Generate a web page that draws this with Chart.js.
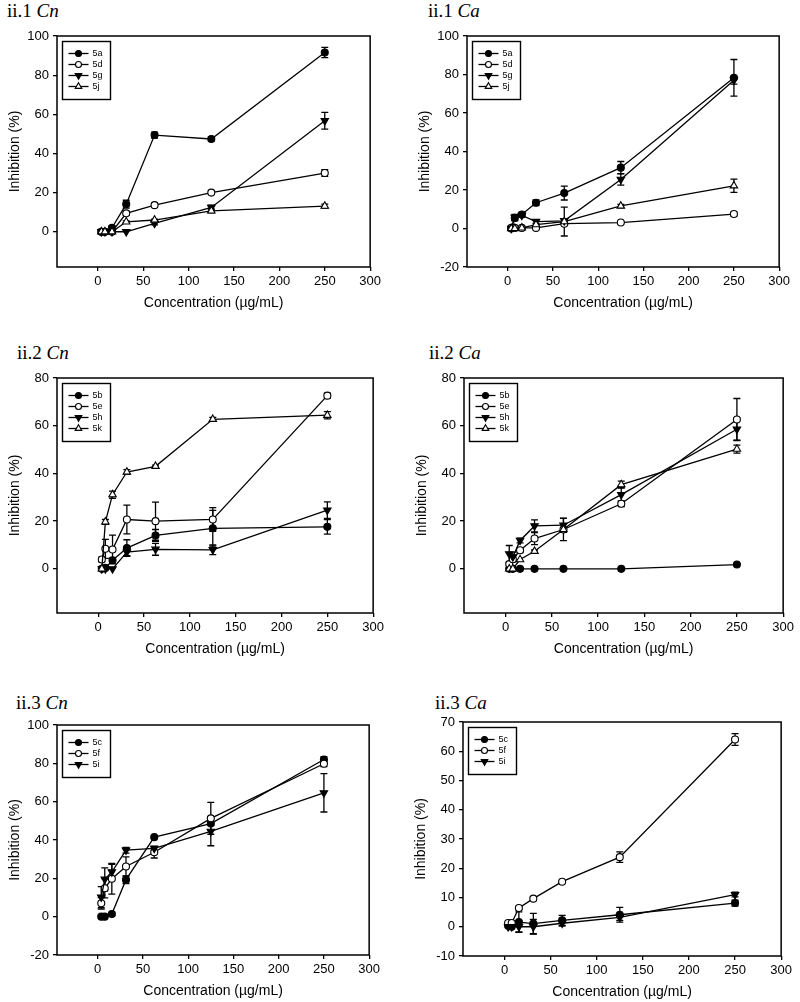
<!DOCTYPE html>
<html><head><meta charset="utf-8">
<script src="https://cdn.jsdelivr.net/npm/chart.js"></script>
<style>
body{margin:0;background:#fff;width:800px;height:1002px;position:relative;overflow:hidden;}
canvas{position:absolute;}
.ttl{position:absolute;font-family:"Liberation Serif","DejaVu Serif",serif;font-size:19px;line-height:20px;color:#000;white-space:nowrap;}
.ttl i{font-style:italic;}
</style></head><body>
<div class="ttl" style="left:7px;top:1px">ii.1 <i>Cn</i></div>
<div class="ttl" style="left:428px;top:1px">ii.1 <i>Ca</i></div>
<div class="ttl" style="left:17px;top:343px">ii.2 <i>Cn</i></div>
<div class="ttl" style="left:429px;top:343px">ii.2 <i>Ca</i></div>
<div class="ttl" style="left:16px;top:693px">ii.3 <i>Cn</i></div>
<div class="ttl" style="left:435px;top:693px">ii.3 <i>Ca</i></div>
<canvas id="c1"></canvas><canvas id="c2"></canvas><canvas id="c3"></canvas>
<canvas id="c4"></canvas><canvas id="c5"></canvas><canvas id="c6"></canvas>
<script>
// ---------- data ----------
const concentrations = [3.9, 7.8, 15.6, 31.25, 62.5, 125, 250];
const xTickValues = [0, 50, 100, 150, 200, 250, 300];
const yTicksCn1 = [0, 20, 40, 60, 80, 100];
const yTicksCa1 = [-20, 0, 20, 40, 60, 80, 100];
const yTicks2 = [0, 20, 40, 60, 80];
const yTicksCn3 = [-20, 0, 20, 40, 60, 80, 100];
const yTicksCa3 = [-10, 0, 10, 20, 30, 40, 50, 60, 70];
const xTitle = 'Concentration (µg/mL)';
const yTitle = 'Inhibition (%)';

// ii.1 Cn
const cn1_5a = [0, 0, 2, 14.1, 49.4, 47.4, 91.6];
const cn1_5a_err = [0, 0, 1, 2, 1.5, 1, 2.6];
const cn1_5d = [0, 0, 0, 9.4, 13.6, 20, 30];
const cn1_5d_err = [0, 0, 0, 1, 1, 0.8, 1.7];
const cn1_5g = [0, 0, 0, 0, 4.3, 12.4, 56.7];
const cn1_5g_err = [0, 0, 0, 0, 0.8, 1.2, 4.3];
const cn1_5j = [0, 0, 0, 5.1, 6, 10.7, 13.1];
const cn1_5j_err = [0, 0, 0, 0.5, 0.5, 1, 1];
// ii.1 Ca
const ca1_5a = [0, 5.5, 7.3, 13.4, 18.4, 31.6, 78.3];
const ca1_5a_err = [0, 1.5, 1, 1.5, 3.6, 3.2, 9.5];
const ca1_5d = [0.3, 0.3, 0.3, 0.3, 2.5, 3.1, 7.5];
const ca1_5d_err = [0, 0, 0, 0, 0, 0.5, 1];
const ca1_5g = [0, 5.8, 6.8, 3.6, 4, 25.5, 77];
const ca1_5g_err = [0, 1.5, 1, 1, 1, 3, 2];
const ca1_5j = [0, 0, 0.3, 2, 3.6, 11.7, 22.2];
const ca1_5j_err = [0, 0, 0, 0, 7.5, 0.8, 3.4];
// ii.2 Cn
const cn2_5b = [0, 0.4, 3.6, 8.7, 14, 17, 17.6];
const cn2_5b_err = [0, 0, 1, 3.5, 2.5, 7.5, 3];
const cn2_5e = [3.9, 8.4, 8.1, 20.7, 20, 20.7, 72.6];
const cn2_5e_err = [1, 4, 6, 6, 8, 5, 1];
const cn2_5h = [0, 0, 0, 7, 8.2, 8, 24.6];
const cn2_5h_err = [0, 0, 0, 1.5, 2.5, 2, 3.5];
const cn2_5k = [0, 19.7, 31.1, 40.6, 43, 62.7, 64.4];
const cn2_5k_err = [0, 1, 1.5, 1, 0.5, 0.8, 1.5];
// ii.2 Ca
const ca2_5b = [0, 0, 0, 0, 0, 0, 1.8];
const ca2_5b_err = [0, 0, 0, 0, 0, 0, 0];
const ca2_5e = [2, 4, 7.8, 12.7, 16.5, 27.3, 62.6];
const ca2_5e_err = [0, 1, 1, 2.5, 1, 1.2, 8.8];
const ca2_5h = [6.3, 5, 11.9, 18, 18.3, 31.1, 58.5];
const ca2_5h_err = [3.5, 2, 1, 2.5, 3, 3, 4.6];
const ca2_5k = [0, 0, 3.9, 7.4, 16.5, 35.3, 50.2];
const ca2_5k_err = [0, 0, 0, 0.5, 4.7, 1.5, 1.7];
// ii.3 Cn
const cn3_5c = [0, 0, 1.4, 19.3, 41.5, 48.6, 82];
const cn3_5c_err = [0, 0, 0.8, 2, 0.5, 1, 1.5];
const cn3_5f = [7, 14.8, 19.8, 26.2, 33.6, 51.3, 79.8];
const cn3_5f_err = [3, 5, 8, 5, 3, 8.3, 1.5];
const cn3_5i = [10.2, 19.5, 23.3, 34.7, 35.6, 44.5, 64.6];
const cn3_5i_err = [5.5, 6, 4, 1.5, 1, 7.5, 10];
// ii.3 Ca
const ca3_5c = [0.3, 0, 1.6, 1.1, 2.2, 4.1, 8.1];
const ca3_5c_err = [0, 0, 3.5, 3.5, 1.7, 2.5, 1];
const ca3_5f = [1.3, 1.3, 6.4, 9.6, 15.4, 23.8, 64];
const ca3_5f_err = [0, 0, 0.5, 0.5, 0.3, 1.8, 2];
const ca3_5i = [0, 0, 0, 0, 1.2, 3.2, 11];
const ca3_5i_err = [0, 0, 1.8, 2.5, 1, 1, 0.8];

// ---------- styles ----------
const markerStyles = {
  fc: {pointStyle: 'circle', radius: 3.5, rotation: 0, fill: '#000'},
  oc: {pointStyle: 'circle', radius: 3.5, rotation: 0, fill: '#fff'},
  ft: {pointStyle: 'triangle', radius: 4.3, rotation: 180, fill: '#000'},
  ot: {pointStyle: 'triangle', radius: 4.3, rotation: 0, fill: '#fff'}
};

const panels = [
  {id: 'c1', area: [57, 36, 376, 267], yMin: -18, yMax: 100, yTicks: yTicksCn1,
   series: [['5a', cn1_5a, cn1_5a_err, 'fc'], ['5d', cn1_5d, cn1_5d_err, 'oc'], ['5g', cn1_5g, cn1_5g_err, 'ft'], ['5j', cn1_5j, cn1_5j_err, 'ot']]},
  {id: 'c2', area: [467, 36, 785, 267], yMin: -20, yMax: 100, yTicks: yTicksCa1,
   series: [['5a', ca1_5a, ca1_5a_err, 'fc'], ['5d', ca1_5d, ca1_5d_err, 'oc'], ['5g', ca1_5g, ca1_5g_err, 'ft'], ['5j', ca1_5j, ca1_5j_err, 'ot']]},
  {id: 'c3', area: [57, 378, 379, 613], yMin: -18.5, yMax: 80, yTicks: yTicks2,
   series: [['5b', cn2_5b, cn2_5b_err, 'fc'], ['5e', cn2_5e, cn2_5e_err, 'oc'], ['5h', cn2_5h, cn2_5h_err, 'ft'], ['5k', cn2_5k, cn2_5k_err, 'ot']]},
  {id: 'c4', area: [464, 378, 789, 613], yMin: -18.5, yMax: 80, yTicks: yTicks2,
   series: [['5b', ca2_5b, ca2_5b_err, 'fc'], ['5e', ca2_5e, ca2_5e_err, 'oc'], ['5h', ca2_5h, ca2_5h_err, 'ft'], ['5k', ca2_5k, ca2_5k_err, 'ot']]},
  {id: 'c5', area: [57, 725, 375, 955], yMin: -20, yMax: 100, yTicks: yTicksCn3,
   series: [['5c', cn3_5c, cn3_5c_err, 'fc'], ['5f', cn3_5f, cn3_5f_err, 'oc'], ['5i', cn3_5i, cn3_5i_err, 'ft']]},
  {id: 'c6', area: [463, 722, 787, 956], yMin: -10, yMax: 70, yTicks: yTicksCa3,
   series: [['5c', ca3_5c, ca3_5c_err, 'fc'], ['5f', ca3_5f, ca3_5f_err, 'oc'], ['5i', ca3_5i, ca3_5i_err, 'ft']]}
];

Chart.defaults.font.family = '"Liberation Sans", Arial, sans-serif';
Chart.defaults.color = '#000';

function drawMarker(ctx, style, x, y, r) {
  ctx.save();
  ctx.fillStyle = style.fill;
  ctx.strokeStyle = '#000';
  ctx.lineWidth = 1.1;
  ctx.beginPath();
  if (style.pointStyle === 'circle') {
    ctx.arc(x, y, r, 0, Math.PI * 2);
  } else {
    let rad = style.rotation * Math.PI / 180;
    for (let k = 0; k < 3; k++) {
      const px = x + Math.sin(rad) * r, py = y - Math.cos(rad) * r;
      if (k === 0) ctx.moveTo(px, py); else ctx.lineTo(px, py);
      rad += 2 * Math.PI / 3;
    }
    ctx.closePath();
  }
  ctx.fill();
  ctx.stroke();
  ctx.restore();
}

const errorBarPlugin = {
  id: 'errorBars',
  beforeDatasetsDraw(chart) {
    const ctx = chart.ctx, xs = chart.scales.x, ys = chart.scales.y;
    ctx.save();
    ctx.strokeStyle = '#000';
    ctx.lineWidth = 1.3;
    chart.data.datasets.forEach(ds => {
      ds.data.forEach((pt, j) => {
        const e = ds.errors[j];
        if (!e) return;
        const x = xs.getPixelForValue(pt.x);
        const y1 = ys.getPixelForValue(pt.y + e), y2 = ys.getPixelForValue(pt.y - e);
        ctx.beginPath();
        ctx.moveTo(x, y1); ctx.lineTo(x, y2);
        ctx.moveTo(x - 3.5, y1); ctx.lineTo(x + 3.5, y1);
        ctx.moveTo(x - 3.5, y2); ctx.lineTo(x + 3.5, y2);
        ctx.stroke();
      });
    });
    ctx.restore();
  }
};

const framePlugin = {
  id: 'frameAndLegend',
  afterDraw(chart) {
    const ctx = chart.ctx, ca = chart.chartArea;
    ctx.save();
    ctx.strokeStyle = '#000';
    ctx.lineWidth = 1.5;
    ctx.strokeRect(ca.left, ca.top, ca.right - ca.left, ca.bottom - ca.top);
    // legend box
    const dsets = chart.data.datasets;
    const n = dsets.length;
    const bx = ca.left + 5.5, by = ca.top + 5.5, bw = 48, bh = n * 11 + 14;
    ctx.fillStyle = '#fff';
    ctx.fillRect(bx, by, bw, bh);
    ctx.lineWidth = 1.4;
    ctx.strokeRect(bx, by, bw, bh);
    ctx.font = '9px "Liberation Sans", Arial, sans-serif';
    ctx.textBaseline = 'middle';
    ctx.textAlign = 'left';
    dsets.forEach((ds, i) => {
      const y = by + 12 + i * 11;
      ctx.lineWidth = 1.3;
      ctx.beginPath();
      ctx.moveTo(bx + 6, y); ctx.lineTo(bx + 26, y);
      ctx.stroke();
      drawMarker(ctx, ds.markerStyle, bx + 16, y, ds.markerStyle.pointStyle === 'circle' ? 3 : 3.8);
      ctx.fillStyle = '#000';
      ctx.fillText(ds.label, bx + 30, y);
    });
    ctx.restore();
  }
};

panels.forEach(p => {
  const [L, T, R, B] = p.area;
  const cv = document.getElementById(p.id);
  const cx = L - 57, cy = T - 14;
  const cw = R - cx + 8, ch = B - cy + 48;
  cv.style.left = cx + 'px';
  cv.style.top = cy + 'px';
  cv.width = cw; cv.height = ch;
  cv.style.width = cw + 'px'; cv.style.height = ch + 'px';

  const n = p.series.length;
  const datasets = p.series.map(([label, vals, errs, st], i) => {
    const s = markerStyles[st];
    return {
      label: label,
      data: concentrations.map((c, j) => ({x: c, y: vals[j]})),
      errors: errs,
      markerStyle: s,
      order: n - i,
      borderColor: '#000',
      borderWidth: 1.3,
      tension: 0,
      fill: false,
      pointStyle: s.pointStyle,
      pointRotation: s.rotation,
      pointRadius: s.radius,
      pointBackgroundColor: s.fill,
      pointBorderColor: '#000',
      pointBorderWidth: 1.1
    };
  });

  new Chart(cv, {
    type: 'line',
    data: {datasets: datasets},
    plugins: [errorBarPlugin, framePlugin],
    options: {
      responsive: false,
      animation: false,
      devicePixelRatio: window.devicePixelRatio || 1,
      layout: {padding: {left: 4, top: 14, right: 8, bottom: 0}},
      plugins: {legend: {display: false}, tooltip: {enabled: false}},
      scales: {
        x: {
          type: 'linear', min: -45, max: 300,
          afterBuildTicks: axis => { axis.ticks = xTickValues.map(v => ({value: v})); },
          afterFit: axis => { axis.height = 48; },
          border: {display: false},
          grid: {display: true, drawOnChartArea: false, drawTicks: true, tickLength: 4, color: '#000', lineWidth: 1.3},
          ticks: {font: {size: 13}, padding: 3, maxRotation: 0, autoSkip: false, color: '#000'},
          title: {display: true, text: xTitle, font: {size: 14}, padding: {top: 0, bottom: 3}, color: '#000'}
        },
        y: {
          type: 'linear', min: p.yMin, max: p.yMax,
          afterBuildTicks: axis => { axis.ticks = p.yTicks.map(v => ({value: v})); },
          afterFit: axis => { axis.width = 53; },
          border: {display: false},
          grid: {display: true, drawOnChartArea: false, drawTicks: true, tickLength: 4, color: '#000', lineWidth: 1.3},
          ticks: {font: {size: 13}, padding: 4, autoSkip: false, color: '#000'},
          title: {display: true, text: yTitle, font: {size: 14}, padding: {top: 3, bottom: 3}, color: '#000'}
        }
      }
    }
  });
});
</script>
</body></html>
